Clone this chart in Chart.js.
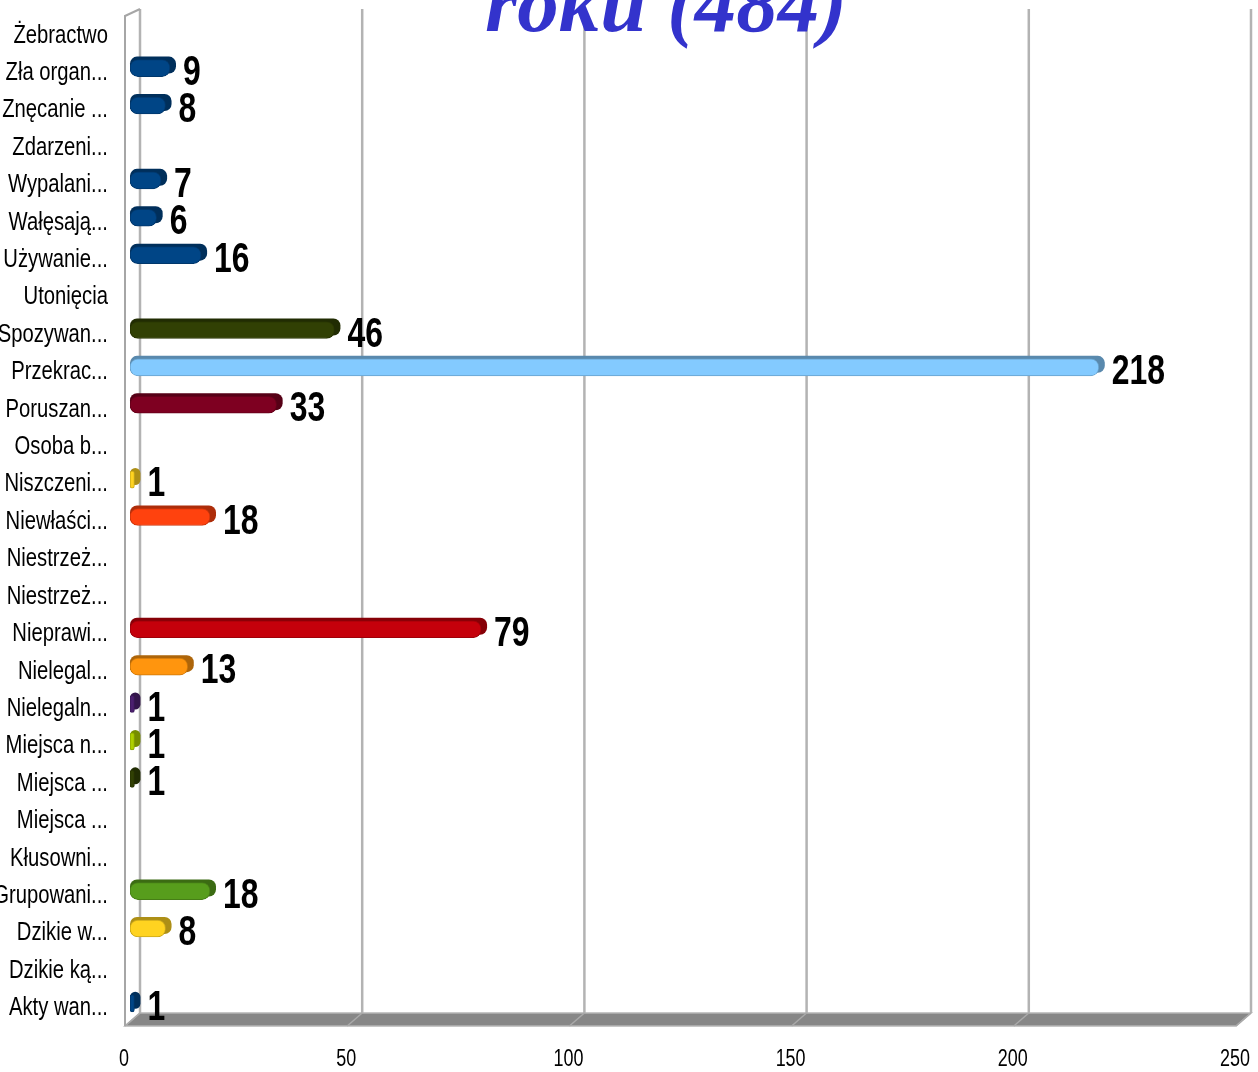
<!DOCTYPE html>
<html>
<head>
<meta charset="utf-8">
<script src="https://cdn.jsdelivr.net/npm/chart.js@4/dist/chart.umd.min.js"></script>
<style>
html, body { margin: 0; padding: 0; background: #fff; }
</style>
</head>
<body>
<canvas id="myChart" width="1258" height="1072"></canvas>
<script>
'use strict'

var categories = ["Żebractwo", "Zła organ...", "Znęcanie ...", "Zdarzeni...", "Wypalani...", "Wałęsają...",
    "Używanie...", "Utonięcia", "Spozywan...", "Przekrac...", "Poruszan...", "Osoba b...", "Niszczeni...",
    "Niewłaści...", "Niestrzeż...", "Niestrzeż...", "Nieprawi...", "Nielegal...", "Nielegaln...",
    "Miejsca n...", "Miejsca ...", "Miejsca ...", "Kłusowni...", "Grupowani...", "Dzikie w...",
    "Dzikie ką...", "Akty wan..."];
var values = [0, 9, 8, 0, 7, 6, 16, 0, 46, 218, 33, 0, 1, 18, 0, 0, 79, 13, 1, 1, 1, 0, 0, 18, 8, 0, 1];
var xTicks = [0, 50, 100, 150, 200, 250];
var titleText = "roku (484)";

// LibreOffice palette, one colour per category
var barColors = ["#004586", "#004586", "#004586", "#004586", "#004586", "#004586", "#004586", "#aecf00",
    "#314004", "#83caff", "#7e0021", "#579d1c", "#ffd320", "#ff420e", "#004586", "#0084d1", "#c5000b",
    "#ff950e", "#4b1f6f", "#aecf00", "#314004", "#83caff", "#7e0021", "#579d1c", "#ffd320", "#ff420e",
    "#004586"];

var sans = "'Liberation Sans', Arimo, sans-serif";

function shade(hex, f) {
    var n = parseInt(hex.slice(1), 16);
    var r = Math.round(((n >> 16) & 255) * f), g = Math.round(((n >> 8) & 255) * f), b = Math.round((n & 255) * f);
    return "rgb(" + r + "," + g + "," + b + ")";
}

// no narrow font installed, so text gets squeezed sideways
function narrowText(ctx, text, x, y, align, sq) {
    ctx.save();
    ctx.translate(x, y);
    ctx.scale(sq, 1);
    ctx.textAlign = align;
    ctx.fillText(text, 0, 0);
    ctx.restore();
}

function roundRect(ctx, x, y, w, h, r) {
    r = Math.min(r, w / 2, h / 2);
    ctx.beginPath();
    ctx.moveTo(x + r, y);
    ctx.arcTo(x + w, y, x + w, y + h, r);
    ctx.arcTo(x + w, y + h, x, y + h, r);
    ctx.arcTo(x, y + h, x, y, r);
    ctx.arcTo(x, y, x + w, y, r);
    ctx.closePath();
}

// walls, floor and the grid of the fake 3d box, plus the depth of each bar
var backdrop = {
    id: "backdrop",
    beforeDatasetsDraw: function(chart) {
        var ctx = chart.ctx, xs = chart.scales.x, a = chart.chartArea;
        var dx = 10, front = a.bottom + 4, back = a.bottom - 9;
        ctx.save();
        ctx.beginPath();
        ctx.moveTo(a.left - 5, front);
        ctx.lineTo(a.right - 5, front);
        ctx.lineTo(a.right + dx, back);
        ctx.lineTo(a.left + dx, back);
        ctx.closePath();
        ctx.fillStyle = "#878787";
        ctx.fill();
        ctx.strokeStyle = "#b5b5b5";
        ctx.lineWidth = 1.5;
        ctx.stroke();
        ctx.strokeStyle = "#b3b3b3";
        ctx.lineWidth = 2.5;
        xTicks.forEach(function(v) {
            var x = xs.getPixelForValue(v) + dx;
            ctx.beginPath();
            ctx.moveTo(x, 9);
            ctx.lineTo(x, back);
            ctx.stroke();
        });
        ctx.lineWidth = 1.5;
        ctx.strokeStyle = "#a9a9a9";
        xTicks.forEach(function(v) {
            var x = xs.getPixelForValue(v);
            ctx.beginPath();
            ctx.moveTo(x + dx, back);
            ctx.lineTo(x - 5, front);
            ctx.stroke();
        });
        ctx.strokeStyle = "#a6a6a6";
        ctx.lineWidth = 2;
        ctx.beginPath();
        ctx.moveTo(a.left - 5, front);
        ctx.lineTo(a.left - 5, 16);
        ctx.lineTo(a.left + dx, 9);
        ctx.stroke();

        // bar depth: darker copy pushed back and up
        chart.getDatasetMeta(0).data.forEach(function(bar, i) {
            if (!values[i]) return;
            var h = bar.height;
            ctx.fillStyle = shade(barColors[i], 0.68);
            roundRect(ctx, bar.base, bar.y - h / 2 - 3, bar.x - bar.base + 6, h, 7);
            ctx.fill();
        });
        ctx.restore();
    }
};

var textLayer = {
    id: "textLayer",
    afterDatasetsDraw: function(chart) {
        var ctx = chart.ctx, xs = chart.scales.x, ys = chart.scales.y;
        var meta = chart.getDatasetMeta(0);
        ctx.save();
        ctx.fillStyle = "#000";
        ctx.textBaseline = "middle";
        ctx.font = "bold 42px " + sans;
        meta.data.forEach(function(bar, i) {
            if (!values[i]) return;
            narrowText(ctx, String(values[i]), bar.x + 13, bar.y + 5, "left", 0.76);
        });
        ctx.font = "25px " + sans;
        categories.forEach(function(c, i) {
            narrowText(ctx, c, 108, ys.getPixelForTick(i) + 5, "right", 0.81);
        });
        ctx.font = "23px " + sans;
        xTicks.forEach(function(v) {
            narrowText(ctx, String(v), xs.getPixelForValue(v) - 6, 1060, "center", 0.78);
        });
        // title, only its lower line fits in the picture
        ctx.font = "italic bold 83px 'Liberation Serif', serif";
        ctx.fillStyle = "#3333cc";
        ctx.textAlign = "center";
        ctx.textBaseline = "alphabetic";
        ctx.fillText(titleText, 666, 31);
        ctx.restore();
    }
};

var ctx = document.getElementById("myChart").getContext("2d");

var myChart = new Chart(ctx, {
    type: "bar",
    data: {
        labels: categories,
        datasets: [{
            data: values,
            backgroundColor: barColors,
            borderColor: barColors.map(function(c) { return shade(c, 0.8); }),
            borderWidth: 1,
            borderRadius: 8,
            borderSkipped: false,
            barThickness: 17
        }]
    },
    options: {
        indexAxis: "y",
        responsive: false,
        animation: false,
        layout: { padding: { top: 12, right: 17, left: 0, bottom: 0 } },
        plugins: {
            legend: { display: false },
            tooltip: { enabled: false }
        },
        scales: {
            x: {
                min: 0,
                max: 250,
                grid: { display: false, drawTicks: false },
                border: { display: false },
                ticks: { stepSize: 50, display: false },
                afterFit: function(axis) { axis.height = 50; }
            },
            y: {
                grid: { display: false, drawTicks: false },
                border: { display: false },
                ticks: { autoSkip: false, display: false },
                afterFit: function(axis) { axis.width = 130; }
            }
        }
    },
    plugins: [backdrop, textLayer]
});
</script>
</body>
</html>
